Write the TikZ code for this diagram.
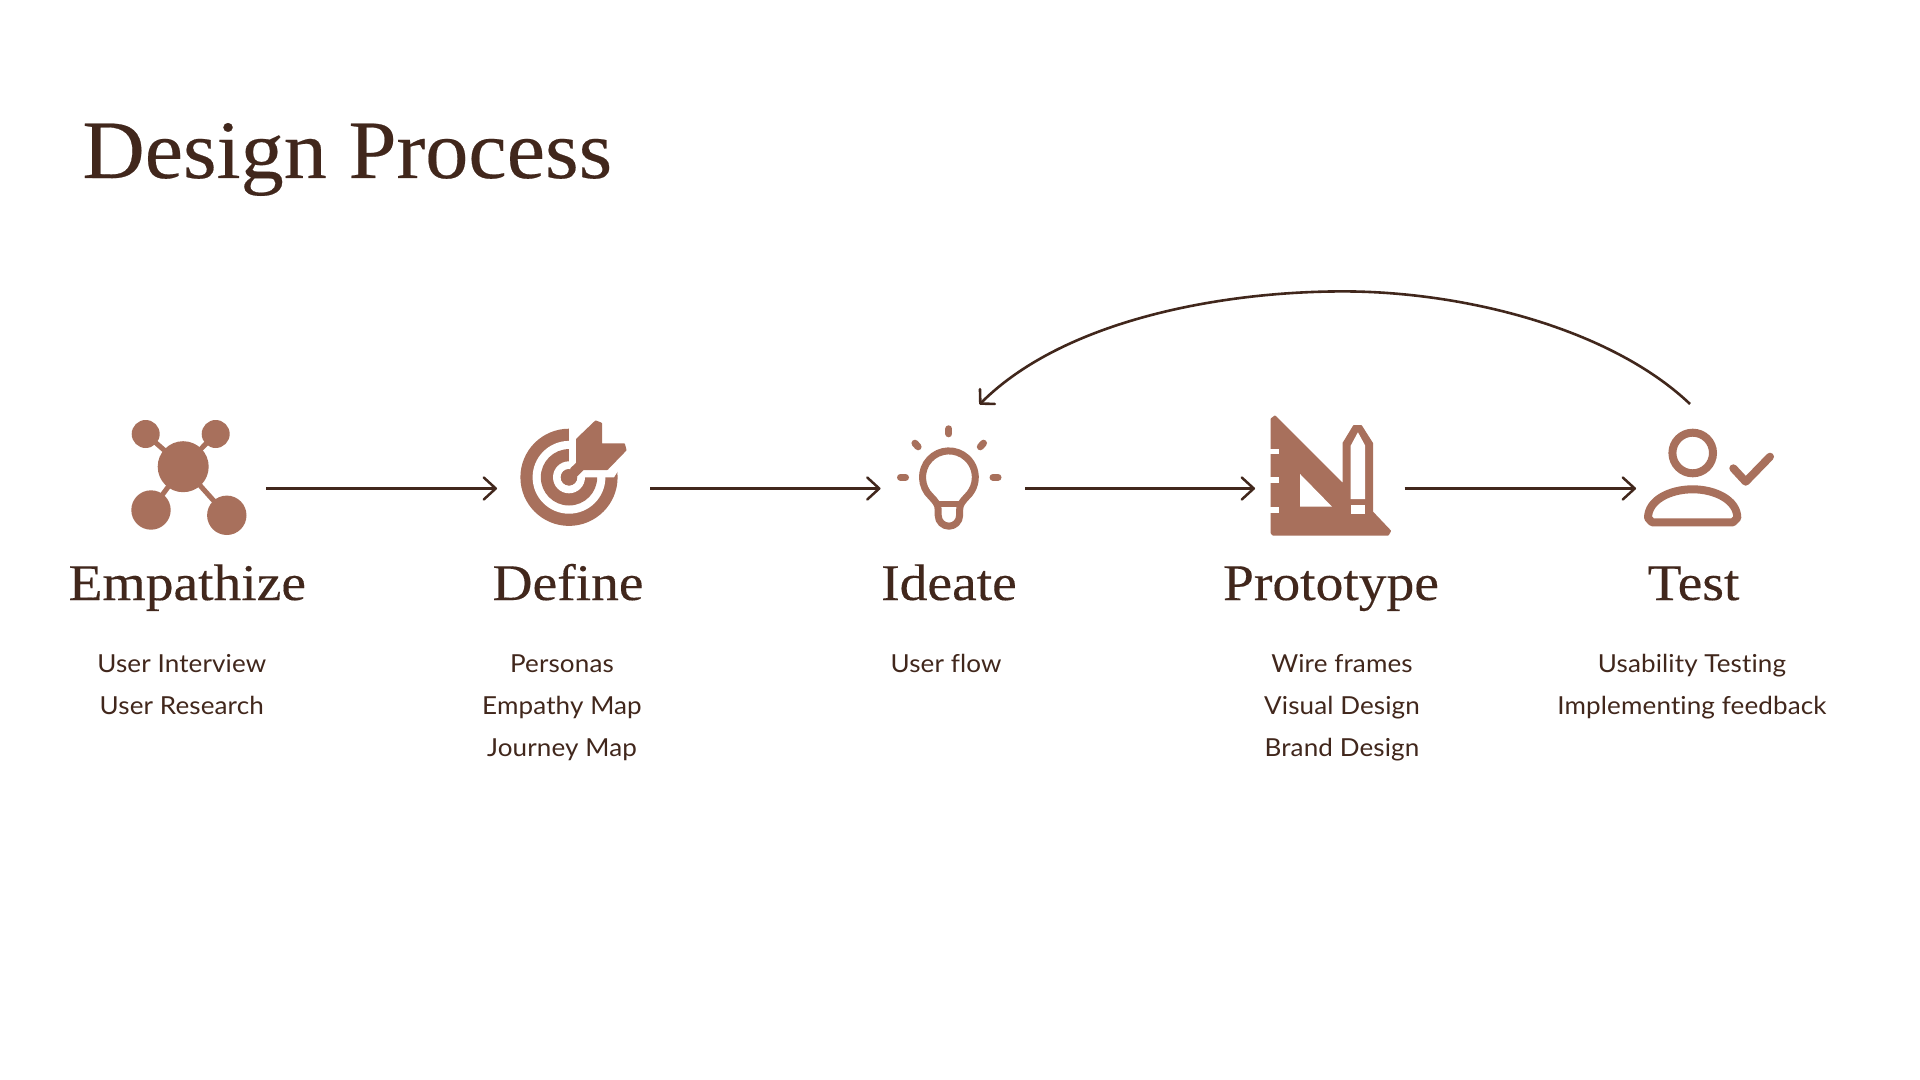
\documentclass[tikz,border=0pt]{standalone}
\usepackage{fontspec}
\setmainfont[FakeStretch=1.05,LetterSpace=0.5,Ligatures=NoCommon]{Lato}
\newfontfamily\headfont[FakeStretch=1.08,FakeBold=0.25]{Liberation Serif}
\newfontfamily\titlefont[FakeStretch=1.04,FakeBold=0.25]{Liberation Serif}
\usetikzlibrary{arrows.meta}
\definecolor{clay}{HTML}{A8705C}
\definecolor{ink}{HTML}{41271C}
\tikzset{
  titletext/.style={anchor=base west,inner sep=0pt,text=ink,font=\titlefont\fontsize{41.5}{50}\selectfont},
  headtext/.style={anchor=base,inner sep=0pt,text=ink,font=\headfont\fontsize{25.7}{30}\selectfont},
  itemtext/.style={anchor=base,inner sep=0pt,text=ink,font=\fontsize{12.4}{15}\selectfont},
  flow/.style={draw=ink,line width=1.25pt,-{Straight Barb[length=6pt,width=11pt,line width=1.25pt,round]}},
  flowloop/.style={draw=ink,line width=1.3pt,-{Straight Barb[length=5pt,width=10.5pt,line width=1.3pt,round]}},
  iconslot/.style={inner sep=0pt,outer sep=0pt,minimum height=20pt},
  clayline/.style={draw=clay,line width=3.5pt,line cap=round,line join=round},
}
\begin{document}
\begin{tikzpicture}[x=0.5pt,y=-0.5pt]
\path[use as bounding box,fill=white] (0,0) rectangle (1920,1080);

\node[titletext] (title) at (82,178) {Design Process};

% ---- slots that connectors attach to
\node[iconslot,minimum width=65pt] (slotE) at (201,488.5) {};
\node[iconslot,minimum width=76.5pt] (slotD) at (573.5,488.5) {};
\node[iconslot,minimum width=72.25pt] (slotI) at (952.75,488.5) {};
\node[iconslot,minimum width=74.75pt] (slotP) at (1329.75,488.5) {};
\node[iconslot,minimum width=54pt] (slotT) at (1690,488.5) {};
\coordinate (loopStart) at (1690,404);
\coordinate (loopTop) at (1343,291.4);
\coordinate (loopEnd) at (979.4,404.5);

% ---- Empathize icon
\draw[clay,line width=2.5pt] (145.7,434) -- (183.2,466.7) -- (215.7,434);
\draw[clay,line width=2.5pt] (151,510) -- (183.2,466.7) -- (226.8,515.3);
\fill[clay] (145.7,434) circle[radius=14];
\fill[clay] (215.7,434) circle[radius=14];
\fill[clay] (183.2,466.7) circle[radius=25.5];
\fill[clay] (151,510) circle[radius=19.7];
\fill[clay] (226.8,515.3) circle[radius=19.7];

% ---- Define icon
\fill[clay] (569,477.3) circle[radius=48.6];
\fill[white] (569,477.3) circle[radius=36.4];
\fill[clay] (569,477.3) circle[radius=28.2];
\fill[white] (569,477.3) circle[radius=16];
\fill[clay] (569,477.3) circle[radius=8.2];
\fill[white] (569,477.3) -- (569,428) -- (575,425) -- (640,425) -- (640,470) -- (618,471) -- (614,477.3) -- cycle;
\fill[clay,draw=clay,line width=1pt,line join=round]
  (577.1,439.3) -- (595.7,421.5) -- (601,423.5) -- (601,444.3) -- (624,444.3) -- (625.5,450)
  -- (607.1,469) -- (583.2,469) -- (576.4,475.7) -- (571,469) -- (577.1,463.3) -- cycle;
\fill[clay] (569,477.3) circle[radius=8.2];

% ---- Ideate icon
\draw[clayline] (931,496.7) arc[start angle=132.7,end angle=407.3,radius=26.4]
  .. controls (963,501) and (959.6,504) .. (959.6,510) -- (959.6,515.5)
  arc[start angle=0,end angle=180,radius=10.7] -- (938.2,510)
  .. controls (938.2,504) and (935,501) .. (931,496.7);
\draw[clayline,line width=3pt] (937,504.4) -- (961,504.4);
\draw[clayline] (948.9,428.8) -- (948.9,433.8);
\draw[clayline] (914.9,443.2) -- (918.1,446.8);
\draw[clayline] (983.5,443.2) -- (980.3,446.8);
\draw[clayline] (900.5,477.3) -- (905.5,477.3);
\draw[clayline] (993,477.3) -- (998,477.3);

% ---- Prototype icon
\fill[clay,draw=clay,line width=1pt,line join=round]
  (1271.7,419) -- (1275,416.5) -- (1343.5,485) -- (1343.5,443.3) -- (1354,426) -- (1361,426)
  -- (1372,443.3) -- (1372,512) -- (1390,531) -- (1388,534.5) -- (1273,534.5) -- (1271.7,533) -- cycle;
\fill[white] (1350.7,445.7) -- (1357.9,432.3) -- (1365.2,445.7) -- (1365.2,499) -- (1350.7,499) -- cycle;
\fill[white] (1350.7,505) rectangle (1365.2,514);
\fill[white] (1300,474) -- (1332,506.7) -- (1300,506.7) -- cycle;
\fill[white] (1270,448.7) rectangle (1279.4,454.3);
\fill[white] (1270,477.3) rectangle (1279.4,483.3);
\fill[white] (1270,507.3) rectangle (1279.4,513.3);

% ---- Test icon
\draw[clay,line width=4pt] (1692.7,453) circle[radius=20.3];
\draw[clayline,line width=4pt] (1648,518) .. controls (1648,500) and (1670,489.3) .. (1692.7,489.3)
  .. controls (1715,489.3) and (1737.3,500) .. (1737.3,518) -- (1733,522.3) -- (1652,522.3) -- cycle;
\draw[clayline,line width=4pt] (1733.3,468.3) -- (1745.7,481.7) -- (1770,456.7);

% ---- connectors
\draw[flow] (slotE.east) -- (slotD.west);
\draw[flow] (slotD.east) -- (slotI.west);
\draw[flow] (slotI.east) -- (slotP.west);
\draw[flow] (slotP.east) -- (slotT.west);
\draw[flowloop] (loopStart) .. controls (1610,328) and (1463,291.4) .. (loopTop)
  .. controls (1223,291.4) and (1064.4,319.5) .. (loopEnd);

% ---- headings
\node[headtext] (hE) at (187.3,600) {Empathize};
\node[headtext] (hD) at (568,600) {Define};
\node[headtext] (hI) at (949,600) {Ideate};
\node[headtext] (hP) at (1331,600) {Prototype};
\node[headtext] (hT) at (1693.5,600) {Test};

% ---- item lines
\node[itemtext] (e1) at (181.8,672) {User Interview};
\node[itemtext] (e2) at (181.8,714) {User Research};
\node[itemtext] (d1) at (562,672) {Personas};
\node[itemtext] (d2) at (562,714) {Empathy Map};
\node[itemtext] (d3) at (562,756) {Journey Map};
\node[itemtext] (i1) at (946,672) {User flow};
\node[itemtext] (p1) at (1342,672) {Wire frames};
\node[itemtext] (p2) at (1342,714) {Visual Design};
\node[itemtext] (p3) at (1342,756) {Brand Design};
\node[itemtext] (t1) at (1692,672) {Usability Testing};
\node[itemtext] (t2) at (1692,714) {Implementing feedback};
\end{tikzpicture}
\end{document}
